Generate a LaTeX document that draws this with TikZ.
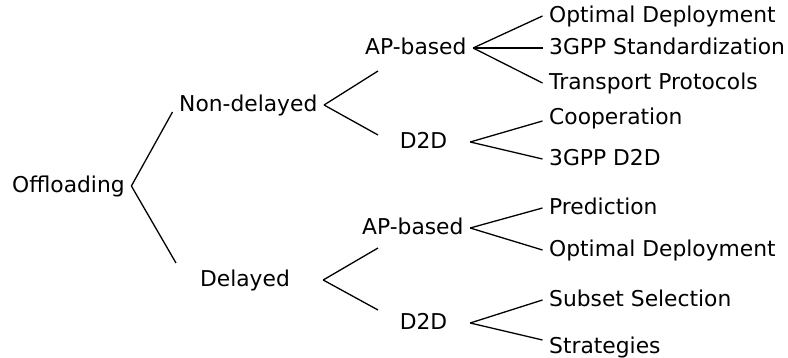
\documentclass[tikz,border=0pt]{standalone}
\usepackage{fontspec}
\setmainfont{DejaVu Sans}

\begin{document}
\begin{tikzpicture}[x=1pt, y=-1pt,
    lbl/.style={anchor=base west, inner xsep=6.5pt, inner ysep=0pt,
        text height=18pt, text depth=4pt, font=\fontsize{21.8}{26}\selectfont},
    wide/.style={lbl, anchor=base, minimum width=#1},
    branch/.style={line width=1.3pt}]
    \useasboundingbox (0,0) rectangle (788,358);

    % Root
    \node[lbl] (off) at (5.5,193) {Offloading};

    % First level
    \node[lbl] (nd) at (172.5,112) {Non-delayed};
    \node[wide=156pt] (dl) at (245,287) {Delayed};

    % Second level
    \node[lbl] (ap1) at (358.5,55) {AP-based};
    \node[wide=93pt] (dd1) at (423.5,149) {D2D};
    \node[lbl] (ap2) at (355.5,235) {AP-based};
    \node[wide=93pt] (dd2) at (423.5,330) {D2D};

    % Leaves
    \node[lbl] (od1) at (542.5,23) {Optimal Deployment};
    \node[lbl] (std) at (542.5,55) {3GPP Standardization};
    \node[lbl] (tp) at (542.5,90) {Transport Protocols};
    \node[lbl] (coop) at (542.5,125) {Cooperation};
    \node[lbl] (gd) at (542.5,166) {3GPP D2D};
    \node[lbl] (pred) at (542.5,215) {Prediction};
    \node[lbl] (od2) at (542.5,257) {Optimal Deployment};
    \node[lbl] (sub) at (542.5,307) {Subset Selection};
    \node[lbl] (strat) at (542.5,353) {Strategies};

    % Free ends of the inner branches
    \coordinate (dl-in) at (176,263);
    \coordinate (ap1-in) at (378,71);
    \coordinate (dd1-in) at (378,135);
    \coordinate (ap2-in) at (378,248);
    \coordinate (dd2-in) at (378,310);

    % Branches
    \draw[branch] (off.east) -- (nd.base west);
    \draw[branch] (off.east) -- (dl-in);

    \draw[branch] (nd.east) -- (ap1-in);
    \draw[branch] (nd.east) -- (dd1-in);
    \draw[branch] (dl.east) -- (ap2-in);
    \draw[branch] (dl.east) -- (dd2-in);

    \foreach \leaf in {od1,std,tp}
        \draw[branch] (ap1.east) -- (\leaf.west);
    \draw[branch] (dd1.east) -- ([yshift=-3pt]coop.west);
    \draw[branch] (dd1.east) -- (gd.west);
    \foreach \leaf in {pred,od2}
        \draw[branch] (ap2.east) -- (\leaf.west);
    \draw[branch] (dd2.east) -- (sub.west);
    \draw[branch] (dd2.east) -- ([yshift=6pt]strat.west);
\end{tikzpicture}
\end{document}
